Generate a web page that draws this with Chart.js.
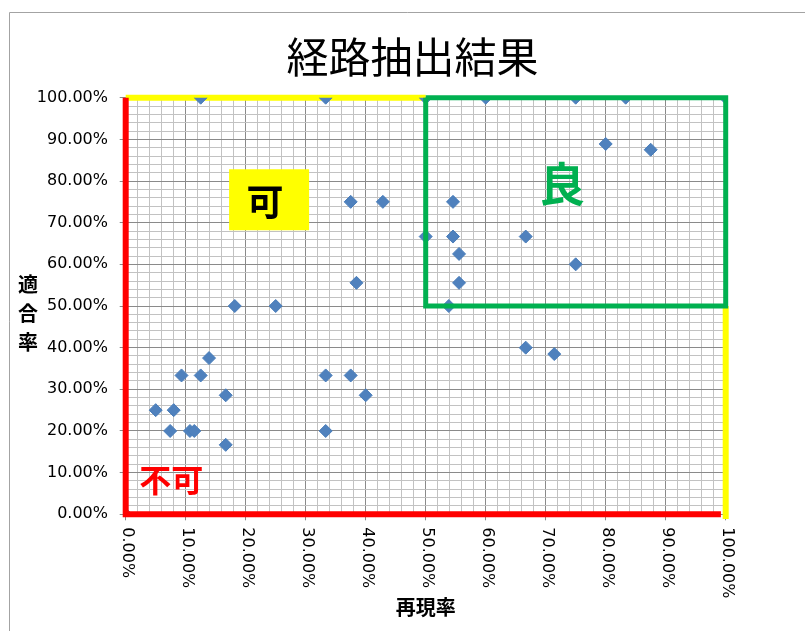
<!DOCTYPE html>
<html>
<head>
<meta charset="utf-8">
<title>経路抽出結果</title>
<script src="https://cdn.jsdelivr.net/npm/chart.js@4.4.1/dist/chart.umd.min.js"></script>
<style>
  html, body { margin: 0; padding: 0; background: #ffffff; }
  #wrap { width: 805px; height: 631px; position: relative; }
</style>
</head>
<body>
<div id="wrap"><canvas id="chart" width="805" height="631"></canvas></div>
<script>
// Recall (再現率) and precision (適合率) per extracted route, in percent
const recall = [
  0, 12.5, 33.33, 50, 60, 75, 83.33, 100,
  80, 87.5,
  37.5, 42.86, 54.55,
  50, 54.55, 66.67,
  55.56, 75,
  38.46, 55.56,
  18.18, 25, 53.85,
  66.67, 71.43,
  13.89,
  9.3, 12.5, 33.33, 37.5,
  16.67, 40,
  5, 8,
  7.41, 10.71, 11.43, 33.33,
  16.67
];
const precision = [
  0, 100, 100, 100, 100, 100, 100, 100,
  88.89, 87.5,
  75, 75, 75,
  66.67, 66.67, 66.67,
  62.5, 60,
  55.56, 55.56,
  50, 50, 50,
  40, 38.46,
  37.5,
  33.33, 33.33, 33.33, 33.33,
  28.57, 28.57,
  25, 25,
  20, 20, 20, 20,
  16.67
];

// Axis ticks (major every 10 %)
const tickValues = [0, 10, 20, 30, 40, 50, 60, 70, 80, 90, 100];
const xTickLabels = ['0.00%', '10.00%', '20.00%', '30.00%', '40.00%', '50.00%',
                     '60.00%', '70.00%', '80.00%', '90.00%', '100.00%'];
const yTickLabels = ['0.00%', '10.00%', '20.00%', '30.00%', '40.00%', '50.00%',
                     '60.00%', '70.00%', '80.00%', '90.00%', '100.00%'];

const chartTitle = '経路抽出結果';
const xTitle = '再現率';
const yTitle = '適合率';

// Evaluation zones: 良 (good), 可 (acceptable), 不可 (poor)
const zoneLabels = ['良', '可', '不可'];
const threshold = 50;

const points = recall.map((r, i) => ({ x: r, y: precision[i] }));

const CJK = '"Noto Sans CJK JP", "Noto Sans CJK SC", sans-serif';
const LATIN = '"DejaVu Sans", sans-serif';
const MAJOR = '#8a8a8a';
const MINOR = '#c2c2c2';

function isMajor(v) { return Math.abs(v % 10) < 1e-6; }

// White page, thin grey frame and the chart heading
const framePlugin = {
  id: 'frame',
  beforeDraw(chart) {
    const { ctx, width, height } = chart;
    ctx.save();
    ctx.fillStyle = '#ffffff';
    ctx.fillRect(0, 0, width, height);
    ctx.strokeStyle = '#a3a3a3';
    ctx.lineWidth = 1;
    ctx.beginPath();
    ctx.moveTo(9.5, height);
    ctx.lineTo(9.5, 12.5);
    ctx.lineTo(width, 12.5);
    ctx.stroke();

    ctx.fillStyle = '#000000';
    ctx.font = '42px ' + CJK;
    ctx.textAlign = 'center';
    ctx.textBaseline = 'middle';
    ctx.fillText(chartTitle, 412.5, 57);
    ctx.restore();
  }
};

// Zone captions placed in data coordinates
const zonePlugin = {
  id: 'zones',
  afterDatasetsDraw(chart) {
    const { ctx, scales: { x, y } } = chart;
    ctx.save();
    ctx.textAlign = 'center';
    ctx.textBaseline = 'middle';

    // 可 : black on a yellow box
    const kx = x.getPixelForValue(23.9), ky = y.getPixelForValue(75.5);
    ctx.fillStyle = '#ffff00';
    ctx.fillRect(kx - 40, ky - 30.5, 80, 61);
    ctx.fillStyle = '#000000';
    ctx.font = 'bold 37px ' + CJK;
    ctx.fillText(zoneLabels[1], kx - 4, ky + 2);

    // 良 : green
    ctx.fillStyle = '#00b050';
    ctx.font = 'bold 46px ' + CJK;
    ctx.fillText(zoneLabels[0], x.getPixelForValue(72.7), y.getPixelForValue(79.3));

    // 不可 : red
    ctx.fillStyle = '#ff0000';
    ctx.font = 'bold 32px ' + CJK;
    ctx.fillText(zoneLabels[2], x.getPixelForValue(7.6), y.getPixelForValue(8.2));
    ctx.restore();
  }
};

// Vertical x tick labels (reading top to bottom) and the stacked y title
const axisTextPlugin = {
  id: 'axisText',
  afterDraw(chart) {
    const { ctx, chartArea, scales: { x } } = chart;
    ctx.save();
    ctx.fillStyle = '#000000';
    ctx.font = '16px ' + LATIN;
    ctx.textAlign = 'left';
    ctx.textBaseline = 'middle';
    tickValues.forEach((v, i) => {
      const px = x.getPixelForValue(v);
      ctx.save();
      ctx.translate(px + 1, x.top + 13);
      ctx.rotate(Math.PI / 2);
      ctx.fillText(xTickLabels[i], 0, 0);
      ctx.restore();
    });

    ctx.font = 'bold 20px ' + CJK;
    ctx.textAlign = 'center';
    const cy = (chartArea.top + chartArea.bottom) / 2 + 7;
    Array.from(yTitle).forEach((ch, i) => {
      ctx.fillText(ch, 28, cy + (i - 1) * 29);
    });
    ctx.restore();
  }
};

function lineSet(data, color, width, order) {
  return {
    data,
    showLine: true,
    borderColor: color,
    backgroundColor: color,
    borderWidth: width,
    pointRadius: 0,
    pointHoverRadius: 0,
    fill: false,
    tension: 0,
    clip: false,
    order,
    borderCapStyle: 'butt',
    borderJoinStyle: 'miter'
  };
}

const gridOpts = {
  color: c => (c.tick && isMajor(c.tick.value)) ? MAJOR : MINOR,
  tickColor: c => (c.tick && isMajor(c.tick.value)) ? MAJOR : 'rgba(0,0,0,0)',
  lineWidth: 1,
  tickLength: 6,
  drawTicks: true
};

new Chart(document.getElementById('chart'), {
  type: 'scatter',
  data: {
    datasets: [
      // 不可 boundary (left and bottom edges)
      lineSet([{ x: 0, y: 100 }, { x: 0, y: 0 }, { x: 99.2, y: 0 }], '#ff0000', 6, 0),
      // 良 region box
      lineSet([{ x: threshold, y: 100 }, { x: 100, y: 100 }, { x: 100, y: threshold },
               { x: threshold, y: threshold }, { x: threshold, y: 100 }], '#00b050', 5, 1),
      // measured routes
      {
        data: points,
        pointStyle: 'rectRot',
        pointRadius: 6.5,
        pointHoverRadius: 6.5,
        pointBackgroundColor: '#4f81bd',
        pointBorderColor: '#4a7ebb',
        pointBorderWidth: 1,
        showLine: false,
        order: 2
      },
      // 可 boundary (top-left and right-bottom edges)
      lineSet([{ x: 0, y: 100 }, { x: threshold, y: 100 }], '#ffff00', 6, 3),
      lineSet([{ x: 100, y: threshold }, { x: 100, y: -1.1 }], '#ffff00', 6, 3)
    ]
  },
  options: {
    responsive: false,
    devicePixelRatio: 1,
    animation: false,
    events: [],
    layout: { padding: { left: 0, right: 79.3, top: 97.7, bottom: 0 } },
    plugins: {
      legend: { display: false },
      tooltip: { enabled: false },
      title: { display: false }
    },
    scales: {
      x: {
        type: 'linear',
        min: 0,
        max: 100,
        grid: gridOpts,
        border: { display: true, color: MAJOR },
        ticks: { stepSize: 2, autoSkip: false, display: false },
        title: {
          display: true,
          text: xTitle,
          color: '#000000',
          font: { family: CJK, size: 20, weight: 'bold', lineHeight: 1.2 },
          padding: { top: 0, bottom: 12 }
        },
        afterFit(scale) { scale.height = 116.7; }
      },
      y: {
        type: 'linear',
        min: 0,
        max: 100,
        grid: gridOpts,
        border: { display: true, color: MAJOR },
        ticks: {
          stepSize: 2,
          autoSkip: false,
          padding: 11.7,
          color: '#000000',
          font: { family: LATIN, size: 16 },
          callback: v => isMajor(v) ? yTickLabels[Math.round(v / 10)] : ''
        },
        title: { display: false },
        afterFit(scale) { scale.width = 125.7; }
      }
    }
  },
  plugins: [framePlugin, zonePlugin, axisTextPlugin]
});
</script>
</body>
</html>
